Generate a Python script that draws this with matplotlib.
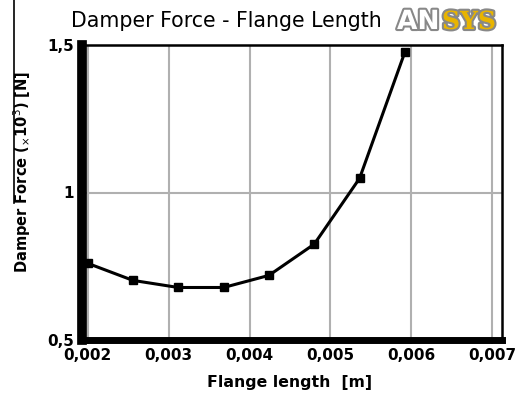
import matplotlib
matplotlib.use("Agg")
import matplotlib.pyplot as plt
import matplotlib.patheffects as pe
from matplotlib.ticker import FuncFormatter

# flange length [m] vs damper force [x10^3 N]
flange = [0.0020, 0.00256, 0.00312, 0.00368, 0.00424, 0.0048, 0.00536, 0.00592]
force = [0.760, 0.702, 0.678, 0.678, 0.719, 0.825, 1.048, 1.476]
xticks = [0.002, 0.003, 0.004, 0.005, 0.006, 0.007]
yticks = [0.5, 1.0, 1.5]

W, H = 525, 397
fig = plt.figure(figsize=(W / 100, H / 100), dpi=100)
ax = fig.add_axes([82 / W, 1 - 340 / H, (502 - 82) / W, (340 - 45) / H])

ax.plot(flange, force, "-", color="black", lw=2.2, marker="s", ms=5.5)

ax.set_xlim(0.00193, 0.00712)
ax.set_ylim(0.5, 1.5)
ax.set_xticks(xticks)
ax.set_yticks(yticks)
ax.grid(True, color="#b0b0b0", lw=1.5)
ax.set_axisbelow(True)

def comma(v, pos):
    s = ("%g" % v) if v >= 0.5 else ("%.3f" % v)
    return s.replace(".", ",")

ax.xaxis.set_major_formatter(FuncFormatter(comma))
ax.yaxis.set_major_formatter(FuncFormatter(comma))
ax.tick_params(labelsize=11, length=3, width=1.5, pad=3)
for lb in ax.get_xticklabels() + ax.get_yticklabels():
    lb.set_fontweight("bold")

ax.spines["left"].set_linewidth(7)
ax.spines["bottom"].set_linewidth(5)
ax.spines["top"].set_linewidth(1.8)
ax.spines["right"].set_linewidth(1.8)

fig.text(226 / W, 1 - 21 / H, "Damper Force - Flange Length", fontsize=14.8,
         ha="center", va="center")
fig.text(290 / W, 1 - 383 / H, "Flange length  [m]", fontsize=11.3,
         fontweight="bold", ha="center", va="center")
fig.text(22 / W, 1 - 172 / H, r"Damper Force ($_{\times}$10$^3$) [N]", fontsize=10.5,
         fontweight="bold", rotation=90, ha="center", va="center")

# logo
stroke = [pe.withStroke(linewidth=3, foreground="#888888")]
fig.text(397 / W, 1 - 22 / H, "AN", fontsize=19, fontweight="bold", color="white",
         ha="left", va="center", path_effects=stroke)
fig.text(442 / W, 1 - 22 / H, "SYS", fontsize=18, fontweight="bold", color="#e8b400",
         family="DejaVu Serif", ha="left", va="center", path_effects=stroke)

# stray vertical line at the left edge
fig.add_artist(plt.Line2D([14 / W, 14 / W], [1, 1 - 203 / H], color="black", lw=1.2,
                          transform=fig.transFigure))

fig.savefig("out.png", dpi=100)
